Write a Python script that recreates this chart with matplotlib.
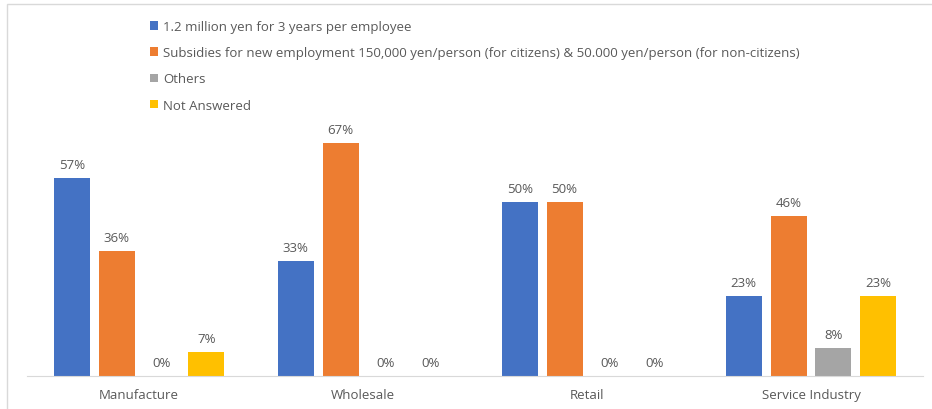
import matplotlib.pyplot as plt
from matplotlib.patches import Patch, Rectangle
import numpy as np

plt.rcParams['font.family'] = ['Open Sans', 'DejaVu Sans']

# survey answers per industry (fraction of respondents)
categories = ['Manufacture', 'Wholesale', 'Retail', 'Service Industry']
series_names = [
    '1.2 million yen for 3 years per employee',
    'Subsidies for new employment 150,000 yen/person (for citizens) & 50.000 yen/person (for non-citizens)',
    'Others',
    'Not Answered',
]
million_yen = [0.57, 0.33, 0.50, 0.23]
subsidies = [0.36, 0.67, 0.50, 0.46]
others = [0.00, 0.00, 0.00, 0.08]
not_answered = [0.07, 0.00, 0.00, 0.23]

colors = ['#4472C4', '#ED7D31', '#A5A5A5', '#FFC000']
text_col = '#595959'
fs = 9.5

fig = plt.figure(figsize=(9.32, 4.10), dpi=100)
ax = fig.add_axes([27 / 932, 33 / 410, 896 / 932, 278.4 / 410])

x = np.arange(len(categories))
pitch = 0.2
width = 0.16
all_series = [million_yen, subsidies, others, not_answered]
for k, (vals, col) in enumerate(zip(all_series, colors)):
    pos = x + (k - 1.5) * pitch
    ax.bar(pos, vals, width, color=col, zorder=2)
    for px, v in zip(pos, vals):
        ax.annotate(f'{v:.0%}', (px, v), xytext=(0, 5), textcoords='offset points',
                    ha='center', va='bottom', fontsize=fs, color=text_col)

ax.set_xlim(-0.5, 3.5)
ax.set_ylim(0, 0.8)
ax.set_yticks([])
ax.set_xticks(x)
ax.set_xticklabels(categories, fontsize=fs, color=text_col)
ax.tick_params(axis='x', length=0, pad=9)
for side in ['top', 'right', 'left']:
    ax.spines[side].set_visible(False)
ax.spines['bottom'].set_color('#D9D9D9')

handles = [Patch(facecolor=c, edgecolor='none') for c in colors]
fig.legend(handles, series_names, loc='upper left', bbox_to_anchor=(150 / 932, 1 - 21 / 410),
           frameon=False, fontsize=fs, labelcolor=text_col, handlelength=0.6, handleheight=0.6,
           handletextpad=0.4, labelspacing=1.0, borderpad=0, borderaxespad=0)

# chart border
fig.patches.append(Rectangle((7 / 932, -0.1), 1.2, 1 - 5 / 410 + 0.1, transform=fig.transFigure,
                             fill=False, edgecolor='#D9D9D9', linewidth=1))

fig.savefig('out.png', dpi=100)
